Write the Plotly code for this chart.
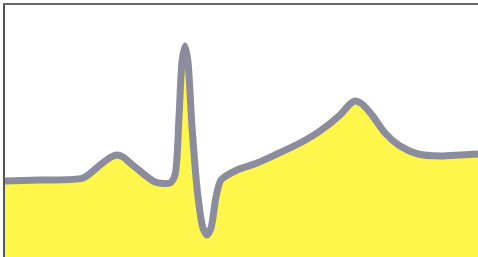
import plotly.graph_objects as go

# ECG-like waveform samples (time units, amplitude units)
time = [0, 35, 78, 95, 106, 112, 118, 130, 150, 165, 170, 174, 177, 180, 183, 187, 193, 198, 202, 206, 211, 216, 232, 252,
        272, 295, 315, 335, 345, 350, 357, 367, 380, 395, 413, 435, 455, 473]
amplitude = [76, 77, 79, 92, 100, 102, 100, 90, 75, 74, 82, 140, 195, 211, 195, 130, 60, 29, 22, 29, 60, 77, 87, 94,
             103, 114, 126, 142, 153, 156, 153, 142, 124, 111, 103, 101, 102, 103]

fig = go.Figure()
fig.add_trace(go.Scatter(
    x=time, y=amplitude, mode="lines",
    line=dict(color="#8b8c9e", width=7, shape="spline", smoothing=0.7),
    fill="tozeroy", fillcolor="#fff64c",
    hoverinfo="skip",
))
fig.update_layout(
    width=478, height=257,
    margin=dict(l=5, r=0, t=5, b=0),
    paper_bgcolor="white", plot_bgcolor="white",
    showlegend=False,
    xaxis=dict(range=[0, 473], showgrid=False, zeroline=False, showticklabels=False,
               showline=True, side="top", linecolor="#666666", linewidth=2, ticks=""),
    yaxis=dict(range=[0, 252], showgrid=False, zeroline=False, showticklabels=False,
               showline=True, linecolor="#555555", linewidth=2, ticks=""),
)
fig.write_html("out.html", config={"displayModeBar": False},
               post_script="document.body.style.margin='0';document.body.style.overflow='hidden';")
